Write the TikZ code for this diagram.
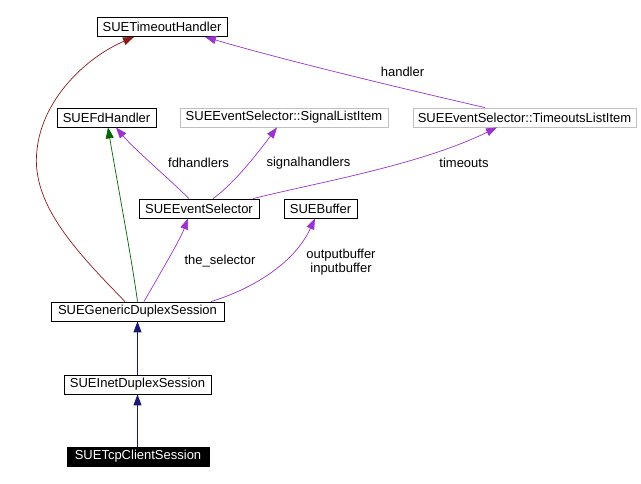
\documentclass[tikz,border=0pt]{standalone}
\usepackage{fontspec}
\setmainfont{Liberation Sans}
\usetikzlibrary{arrows.meta}
\definecolor{cred}{HTML}{8B1A1A}
\definecolor{cgreen}{HTML}{006400}
\definecolor{cpurple}{HTML}{9A32CD}
\definecolor{cnavy}{HTML}{191970}
\definecolor{cgray}{HTML}{BFBFBF}
\tikzset{
  cls/.style={draw=black, fill=white, rectangle, inner sep=0pt, minimum height=19pt,
    font=\fontsize{13}{15}\selectfont, line width=0.8pt},
  ext/.style={cls, draw=cgray},
  cur/.style={cls, fill=black, text=white},
  tip/.style={-{Triangle[length=11pt,width=8pt]}},
  use/.style={tip, draw=cpurple, line width=0.7pt},
  inh/.style={tip, draw=cnavy, line width=0.9pt},
  prot/.style={tip, draw=cred, line width=0.7pt},
  pub/.style={tip, draw=cgreen, line width=0.7pt},
  lbl/.style={font=\fontsize{13}{14}\selectfont, inner sep=0pt, align=center},
}
\begin{document}
\begin{tikzpicture}[x=1pt,y=-1pt]
\useasboundingbox (0,0) rectangle (641,484);
\node[cls, minimum width=130pt] (th) at (162,27) {SUETimeoutHandler};
\node[cls, minimum width=99pt] (fd) at (106.5,117.5) {SUEFdHandler};
\node[ext, minimum width=208pt] (sl) at (284,117.5) {SUEEventSelector::SignalListItem};
\node[ext, minimum width=223pt] (tl) at (524.5,117.5) {SUEEventSelector::TimeoutsListItem};
\node[cls, minimum width=120pt] (es) at (199,208.5) {SUEEventSelector};
\node[cls, minimum width=73pt] (bu) at (320.5,208.5) {SUEBuffer};
\node[cls, minimum width=173pt] (gd) at (137.5,311.5) {SUEGenericDuplexSession};
\node[cls, minimum width=147pt] (id) at (137.5,384.5) {SUEInetDuplexSession};
\node[cur, minimum width=142pt] (tc) at (138,456.5) {SUETcpClientSession};

% inheritance
\draw[inh] (id.north) -- (gd.south);
\draw[inh] ([xshift=-0.5pt]tc.north) -- (id.south);
% protected inheritance
\draw[prot] ([xshift=-12.5pt]gd.north) .. controls (80,255) and (30,205) .. (37,150)
  .. controls (42,100) and (85,58) .. ([xshift=-28pt]th.south);
% public inheritance
\draw[pub] (gd.north) .. controls (132,260) and (115,170) .. ([xshift=1.5pt]fd.south);
% usage
\draw[use] ([xshift=-10pt]es.north) .. controls (165,175) and (135,150) .. ([xshift=9.5pt]fd.south);
\draw[use] ([xshift=14pt]es.north) .. controls (235,183) and (260,150) .. ([xshift=-7pt]sl.south);
\draw[use] ([xshift=54pt]es.north) .. controls (320,182) and (420,165) .. ([xshift=-27.5pt]tl.south);
\draw[use] ([xshift=-39.5pt]tl.north) .. controls (430,95) and (290,62) .. ([xshift=43pt]th.south);
\draw[use] ([xshift=6.5pt]gd.north) .. controls (162,270) and (180,240) .. ([xshift=-11pt]es.south);
\draw[use] ([xshift=73.5pt]gd.north) .. controls (255,288) and (295,262) .. ([xshift=-5.5pt]bu.south);

\node[lbl] (l1) at (198.5,163) {fdhandlers};
\node[lbl] (l2) at (308.5,163) {signalhandlers};
\node[lbl] (l3) at (464,163) {timeouts};
\node[lbl] (l4) at (402.5,72) {handler};
\node[lbl] (l5) at (220,261) {the\_selector};
\node[lbl] (l6) at (341,262) {outputbuffer\\inputbuffer};
\end{tikzpicture}
\end{document}
